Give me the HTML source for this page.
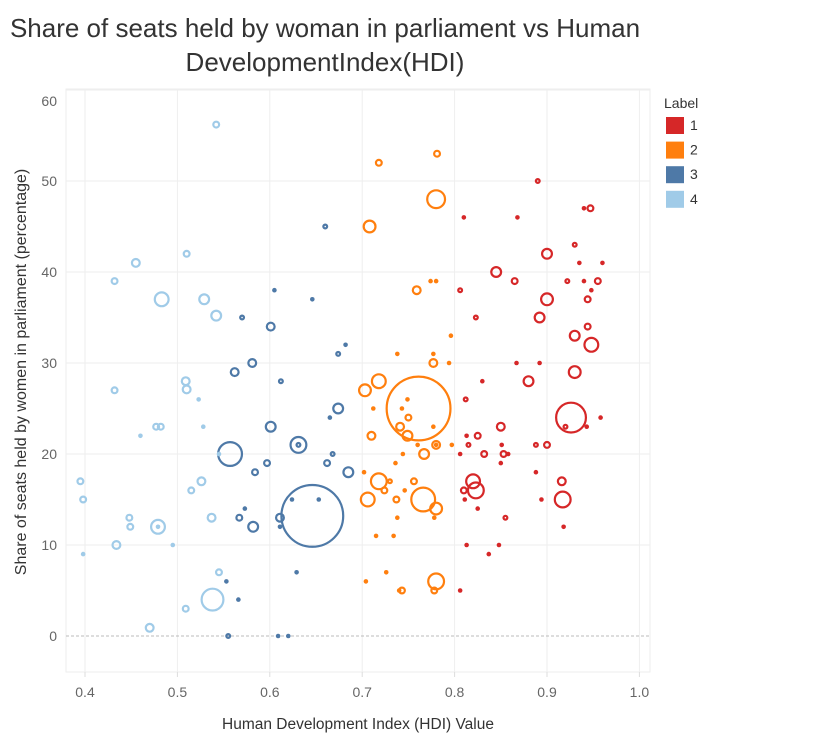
<!DOCTYPE html>
<html><head><meta charset="utf-8"><style>
body{margin:0;background:#fff;font-family:"Liberation Sans",sans-serif;}
#wrap{position:relative;width:838px;height:744px;overflow:hidden;}
</style></head><body>
<div id="wrap">
<svg id="chart" width="838" height="744">
<text x="325" y="37" text-anchor="middle" font-size="26" fill="#333">Share of seats held by woman in parliament vs Human</text>
<text x="325" y="71" text-anchor="middle" font-size="26" fill="#333">DevelopmentIndex(HDI)</text>
<text x="358" y="729" text-anchor="middle" font-size="15.5" fill="#333">Human Development Index (HDI) Value</text>
<text transform="translate(26,372) rotate(-90)" text-anchor="middle" font-size="16" fill="#333">Share of seats held by women in parliament (percentage)</text>
<g id="grid"></g><g id="marks"></g>
<g>
<text x="664" y="108" font-size="14" fill="#333">Label</text>
<g id="legend"></g></g>
</svg></div>
<script>
const xTicks=[0.4,0.5,0.6,0.7,0.8,0.9,1.0];
const yTicks=[0,10,20,30,40,50,60];
const labels=["1","2","3","4"];
const colors=["#d62728","#ff7f0e","#4e79a7","#a0cbe8"];
const hdi4=[.542,.455,.51,.432,.483,.529,.542,.509,.51,.523,.432,.528,.477,.482,.46,.545,.395,.398,.515,.526,.448,.449,.479,.479,.495,.434,.398,.537,.545,.538,.509,.47];
const seats4=[56.2,41,42,39,37,37,35.2,28,27.1,26,27,23,23,23,22,20,17,15,16,17,13,12,12,12,10,10,9,13,7,4,3,0.9];
const pop4=[16,25,16,16,64,36,36,25,25,2,16,2,16,16,2,2,16,16,16,25,16,16,64,2,2,25,2,25,16,144,16,25];
const hdi3=[.66,.605,.646,.57,.601,.682,.674,.562,.581,.612,.665,.674,.601,.631,.631,.557,.662,.668,.685,.597,.584,.573,.567,.582,.611,.611,.624,.653,.646,.629,.553,.566,.555,.609,.62];
const seats3=[45,38,37,35,34,32,31,29,30,28,24,25,23,21,21,20,19,20,18,19,18,14,13,12,13,12,15,15,13.2,7,6,4,0,0,0];
const pop3=[9,2,2,9,25,2,9,25,25,9,4,36,36,81,9,169,16,9,36,16,16,4,16,36,25,2,2,2,1024,2,2,2,9,2,2];
const hdi2=[.718,.781,.78,.708,.774,.78,.759,.796,.738,.777,.777,.794,.761,.749,.75,.777,.743,.78,.78,.76,.797,.703,.718,.712,.71,.741,.749,.767,.744,.736,.702,.718,.73,.724,.746,.706,.737,.766,.78,.756,.778,.738,.734,.715,.726,.704,.74,.743,.78,.778];
const seats2=[52,53,48,45,39,39,38,33,31,31,30,30,25,26,24,23,25,21,21,21,21,27,28,25,22,23,22,20,20,19,18,17,17,16,16,15,15,15,14,17,13,13,11,11,7,6,5,5,6,5];
const pop2=[16,16,100,49,2,2,25,2,2,2,25,2,1089,2,16,4,2,25,4,2,2,49,64,2,25,25,36,36,2,2,2,81,9,16,2,64,16,169,49,16,2,2,2,2,2,2,4,16,81,16];
const hdi1=[.89,.81,.868,.94,.947,.9,.93,.935,.96,.922,.94,.955,.948,.806,.845,.865,.9,.944,.892,.823,.944,.93,.948,.867,.892,.88,.83,.93,.812,.85,.926,.92,.943,.958,.813,.825,.815,.832,.806,.851,.853,.858,.85,.888,.888,.9,.82,.823,.81,.811,.825,.855,.916,.917,.894,.918,.813,.848,.837,.806];
const seats1=[50,46,46,47,47,42,43,41,41,39,39,39,38,38,40,39,37,37,35,35,34,33,32,30,30,28,28,29,26,23,24,23,23,24,22,22,21,20,20,21,20,20,19,18,21,21,17,16,16,15,14,13,17,15,15,12,10,10,9,5];
const pop1=[9,4,2,4,16,36,9,2,2,9,2,16,2,9,36,16,49,16,36,9,16,36,64,2,2,36,2,49,9,25,256,9,2,2,2,16,9,16,2,2,16,2,2,2,9,16,64,81,16,2,2,9,25,81,2,2,4,2,2,4];
const series=[[hdi1,seats1,pop1],[hdi2,seats2,pop2],[hdi3,seats3,pop3],[hdi4,seats4,pop4]];
const NS="http://www.w3.org/2000/svg";
function xS(v){return 85+(v-0.4)*924;}
function yS(v){return 636-v*9.1;}
function rS(p){return Math.sqrt(p);}
const grid=document.getElementById('grid'),marks=document.getElementById('marks'),legend=document.getElementById('legend');
function mk(tag,attrs,parent){const e=document.createElementNS(NS,tag);for(const k in attrs)e.setAttribute(k,attrs[k]);parent.appendChild(e);return e;}
const border=mk('rect',{x:66,y:89,width:584,height:583,fill:'none',stroke:'#eee','stroke-width':1},grid);


xTicks.forEach(t=>{
  const l=mk('line',{x1:xS(t),x2:xS(t),y1:89,y2:672,stroke:'#eee'},grid);
  
  
  const tk=mk('line',{x1:xS(t),x2:xS(t),y1:672,y2:677,stroke:'#ddd'},grid);
  
  
  const tx=mk('text',{x:xS(t),y:697,'text-anchor':'middle','font-size':14,fill:'#666'},grid);
  tx.textContent=t.toFixed(1);
  
  
});
yTicks.forEach(t=>{
  if(t>0){const l=mk('line',{x1:66,x2:650,y1:yS(t),y2:yS(t),stroke:'#eee'},grid);
  
  }
  const ty=t===60?yS(t)+16:yS(t)+5;
  const tx=mk('text',{x:57,y:ty,'text-anchor':'end','font-size':14,fill:'#666'},grid);
  tx.textContent=t;
  
  
});
const zl=mk('line',{x1:66,x2:650,y1:yS(0),y2:yS(0),stroke:'#bbb','stroke-dasharray':'3,2'},grid);


const pts=[];
series.forEach((s,i)=>{s[0].forEach((h,j)=>pts.push({h:h,v:s[1][j],p:s[2][j],c:colors[i],lab:labels[i]}));});
pts.sort((a,b)=>b.p-a.p);
pts.forEach(d=>{
  const r=rS(d.p);let c;
  if(r<2.5){c=mk('circle',{cx:xS(d.h),cy:yS(d.v),r:2.3,fill:d.c},marks);}
  else{c=mk('circle',{cx:xS(d.h),cy:yS(d.v),r:r-1.1,fill:'none',stroke:d.c,'stroke-width':2.2},marks);}
  
  
});
labels.forEach((l,i)=>{
  const y=117+i*24.6;
  const r=mk('rect',{x:666,y:y,width:18,height:17,fill:colors[i]},legend);
  
  
  const t=mk('text',{x:690,y:y+13,'font-size':14,fill:'#333'},legend);
  t.textContent=l;
  
  
});
</script>
</body></html>
